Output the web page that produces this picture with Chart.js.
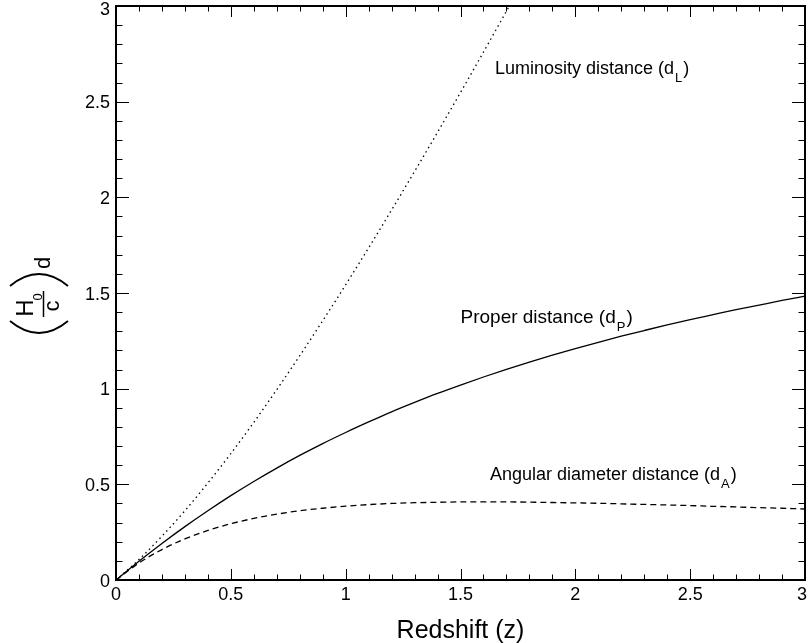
<!DOCTYPE html>
<html><head><meta charset="utf-8">
<script src="https://cdn.jsdelivr.net/npm/chart.js@4/dist/chart.umd.min.js"></script>
<style>html,body{margin:0;padding:0;background:#fff}canvas{display:block}</style>
</head><body>
<canvas id="c" width="809" height="643"></canvas>
<script>
// ---- data ----
const redshift = [0,0.1,0.2,0.3,0.4,0.5,0.6,0.7,0.8,0.9,1.0,1.1,1.2,1.3,1.4,1.5,1.6,1.7,1.8,1.9,2.0,2.1,2.2,2.3,2.4,2.5,2.6,2.7,2.8,2.9,3.0];
const properDistance = [0,0.098,0.191,0.279,0.362,0.441,0.515,0.585,0.651,0.713,0.771,0.826,0.879,0.928,0.975,1.019,1.061,1.101,1.139,1.175,1.209,1.242,1.274,1.304,1.333,1.361,1.387,1.413,1.437,1.461,1.484];
const luminosityDistance = [0,0.107,0.229,0.362,0.507,0.661,0.824,0.995,1.172,1.355,1.543,1.736,1.934,2.135,2.340,2.548,2.759,2.973,3.189];
const angularDistance = [0,0.089,0.159,0.215,0.259,0.294,0.322,0.344,0.362,0.375,0.386,0.394,0.400,0.404,0.406,0.408,0.408,0.408,0.407,0.405,0.403,0.401,0.398,0.395,0.392,0.389,0.385,0.382,0.378,0.375,0.371];
const xTickValues = [0,0.5,1,1.5,2,2.5,3];
const xTickLabels = ['0','0.5','1','1.5','2','2.5','3'];
const yTickValues = [0,0.5,1,1.5,2,2.5,3];
const yTickLabels = ['0','0.5','1','1.5','2','2.5','3'];
const xTitle = 'Redshift (z)';
const curveLabels = [
  {text:'Luminosity distance (d', sub:'L', z:1.65, d:2.645, size:18},
  {text:'Proper distance (d', sub:'P', z:1.50, d:1.343, size:19},
  {text:'Angular diameter distance (d', sub:'A', z:1.628, d:0.522, size:18}
];

const FONT = '"Liberation Sans", Arial, Helvetica, sans-serif';
const toXY = (ys) => ys.map((v,i)=>({x:redshift[i], y:v}));

const framePlugin = {
  id:'frame',
  afterDraw(chart){
    const {ctx, chartArea:a, scales:{x, y}} = chart;
    ctx.save();
    ctx.strokeStyle='#000'; ctx.fillStyle='#000';
    ctx.lineWidth=1;
    ctx.beginPath();
    for(let i=0;i<=30;i++){
      const v=i/10, major=(i%5===0);
      const px=Math.round(x.getPixelForValue(v))+0.5;
      const lx = major?11:5.5;
      ctx.moveTo(px,a.bottom); ctx.lineTo(px,a.bottom-lx);
      ctx.moveTo(px,a.top); ctx.lineTo(px,a.top+lx);
      const py=Math.round(y.getPixelForValue(v))+0.5;
      const ly = major?13:6.5;
      ctx.moveTo(a.left,py); ctx.lineTo(a.left+ly,py);
      ctx.moveTo(a.right,py); ctx.lineTo(a.right-ly,py);
    }
    ctx.stroke();
    ctx.lineWidth=2;
    ctx.strokeRect(a.left,a.top,a.right-a.left,a.bottom-a.top);
    ctx.font='18px '+FONT;
    ctx.textBaseline='alphabetic';
    ctx.textAlign='center';
    xTickValues.forEach((v,i)=>{
      let px=x.getPixelForValue(v);
      const w=ctx.measureText(xTickLabels[i]).width;
      if(px+w/2>807) px=807-w/2;
      ctx.fillText(xTickLabels[i], px, a.bottom+20);
    });
    ctx.textAlign='right';
    yTickValues.forEach((v,i)=>{
      let py=y.getPixelForValue(v)+6.5;
      if(py<15) py=15;
      ctx.fillText(yTickLabels[i], a.left-6, py);
    });
    ctx.font='25px '+FONT;
    ctx.textAlign='center';
    ctx.fillText(xTitle, (a.left+a.right)/2, 638);
    ctx.textAlign='left';
    curveLabels.forEach(l=>{
      const px=x.getPixelForValue(l.z), py=y.getPixelForValue(l.d);
      ctx.font=l.size+'px '+FONT;
      ctx.fillText(l.text, px, py);
      let w=ctx.measureText(l.text).width;
      ctx.font='13px '+FONT;
      ctx.fillText(l.sub, px+w+1, py+8);
      w+=ctx.measureText(l.sub).width+2;
      ctx.font=l.size+'px '+FONT;
      ctx.fillText(')', px+w, py);
    });
    // y title: (H0/c) d rotated
    ctx.translate(39, (a.top+a.bottom)/2);
    ctx.rotate(-Math.PI/2);
    ctx.lineWidth=1.8;
    ctx.beginPath();
    ctx.moveTo(-28,-29); ctx.quadraticCurveTo(-52,0,-28,29);
    ctx.moveTo(7,-29); ctx.quadraticCurveTo(31,0,7,29);
    ctx.stroke();
    ctx.textAlign='center';
    ctx.font='24px '+FONT;
    ctx.fillText('H', -15, -6);
    ctx.font='22px '+FONT;
    ctx.fillText('c', -13, 20);
    ctx.font='13px '+FONT;
    ctx.fillText('0', -4, 3);
    ctx.lineWidth=1.5;
    ctx.beginPath(); ctx.moveTo(-24,4.5); ctx.lineTo(2,4.5); ctx.stroke();
    ctx.font='22px '+FONT;
    ctx.fillText('d', 30, 11);
    ctx.restore();
  }
};

const common = {borderColor:'#000', borderWidth:1.3, pointRadius:0, showLine:true, fill:false, cubicInterpolationMode:'monotone'};
new Chart(document.getElementById('c'), {
  type:'scatter',
  data:{datasets:[
    Object.assign({label:'Proper distance', data:toXY(properDistance)}, common),
    Object.assign({label:'Luminosity distance', data:toXY(luminosityDistance), borderDash:[1.5,3.5]}, common),
    Object.assign({label:'Angular diameter distance', data:toXY(angularDistance), borderDash:[6,4]}, common)
  ]},
  options:{
    responsive:false, animation:false, devicePixelRatio:1,
    layout:{padding:{top:6, right:4, left:0, bottom:0}},
    plugins:{legend:{display:false}, tooltip:{enabled:false}},
    scales:{
      x:{type:'linear', min:0, max:3, grid:{display:false}, border:{display:false}, ticks:{display:false},
         afterFit(s){ s.height=63; }},
      y:{type:'linear', min:0, max:3, grid:{display:false}, border:{display:false}, ticks:{display:false},
         afterFit(s){ s.width=116; }}
    }
  },
  plugins:[framePlugin]
});
</script>
</body></html>
